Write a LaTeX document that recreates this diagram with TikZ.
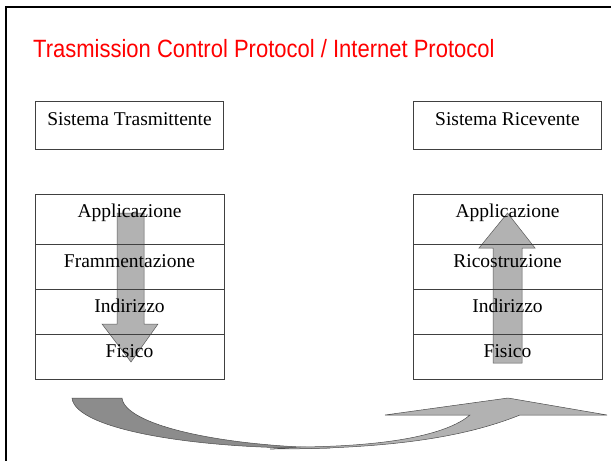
\documentclass[tikz,border=0pt]{standalone}
\usepackage{fontspec}
\setmainfont{Liberation Serif}
\newfontfamily\titlefont{Liberation Sans}
\usetikzlibrary{positioning}

\newcommand\txtsize{\fontsize{19.5}{21}\selectfont}

\tikzset{
    sysbox/.style={draw=black!75,line width=0.8pt,minimum width=188pt,inner sep=0pt,outer sep=0pt,
        text height=24pt,text depth=24pt,font=\txtsize},
    layerbox/.style={draw=black!75,line width=0.8pt,minimum width=189pt,inner sep=0pt,outer sep=0pt,
        text height=23pt,text depth=22pt,font=\txtsize},
    blockarrow/.style={fill=black!30,draw=black!65,line width=0.5pt},
    darkface/.style={fill=black!45,draw=black!70,line width=0.5pt},
    lightface/.style={fill=black!30,draw=black!70,line width=0.5pt},
}

\begin{document}
\begin{tikzpicture}[x=1pt,y=-1pt]
        \useasboundingbox (0,0) rectangle (611,461);
        % frame
        \draw[line width=2.6pt] (611,7) -- (6,7) -- (6,461);
        \node[anchor=base west,text=red,xscale=0.88,font=\titlefont\fontsize{25}{27}\selectfont,inner sep=0pt] (title) at (33,57) {Trasmission Control Protocol / Internet Protocol};
        % block arrows
        \draw[blockarrow] (117,213) -- (144,213) -- (144,324) -- (158,324) -- (131,362) -- (102,324) -- (117,324) -- cycle;
        \draw[blockarrow] (493,363) -- (522,363) -- (522,248) -- (535,248) -- (507.5,213) -- (479,248) -- (493,248) -- cycle;
        % systems
        \node[sysbox,anchor=north] (tx) at (129.5,101) {Sistema Trasmittente};
        \node[sysbox,anchor=north] (rx) at (507.5,101) {Sistema Ricevente};
        % sender stack
        \node[layerbox,anchor=north,text depth=27pt] (app1) at (129.5,194) {Applicazione};
        \node[layerbox,below=0pt of app1] (fram) {Frammentazione};
        \node[layerbox,below=0pt of fram] (ind1) {Indirizzo};
        \node[layerbox,below=0pt of ind1] (fis1) {Fisico};
        % receiver stack
        \node[layerbox,anchor=north,text depth=27pt] (app2) at (507.5,194) {Applicazione};
        \node[layerbox,below=0pt of app2] (ric) {Ricostruzione};
        \node[layerbox,below=0pt of ric] (ind2) {Indirizzo};
        \node[layerbox,below=0pt of ind2] (fis2) {Fisico};
        % curved arrow
        \draw[darkface] (72,398) -- (122,398) .. controls (125,425) and (220,446) .. (330,448)
            .. controls (200,450) and (75,430) .. (72,398) -- cycle;
        \draw[lightface] (270,449) .. controls (400,449) and (470,435) .. (520,415) -- (607,415) -- (508,398)
            -- (385,415) -- (470,415) .. controls (450,432) and (400,446) .. (300,447) -- cycle;
\end{tikzpicture}
\end{document}
